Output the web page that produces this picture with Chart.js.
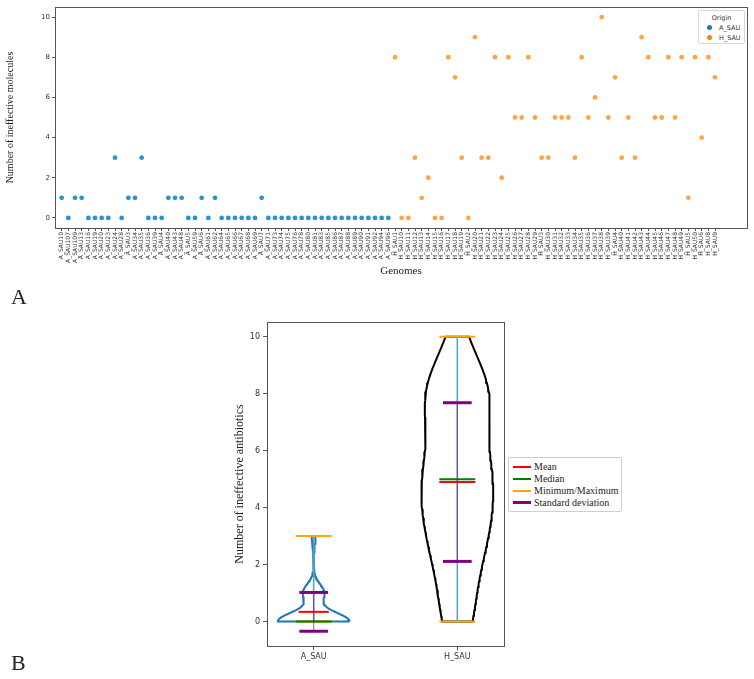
<!DOCTYPE html>
<html>
<head>
<meta charset="utf-8">
<script src="https://cdn.jsdelivr.net/npm/chart.js@4.4.0/dist/chart.umd.min.js"></script>
<style>
  body { margin: 0; background: #fff; width: 754px; height: 679px; position: relative; overflow: hidden; }
  canvas { position: absolute; left: 0; }
  #chartA { top: 0; }
  #chartB { top: 300px; }
  .tag { position: absolute; font-family: "Liberation Serif", serif; font-size: 22px; color: #222; }
  #legA { position: absolute; left: 698px; top: 10px; width: 45px; height: 32px; border: 1px solid #d8d8d8; border-radius: 2px;
          font-family: "DejaVu Sans", sans-serif; font-size: 6.5px; color: #333; background: #fff; }
  #legA .ttl { position: absolute; left: 0; width: 45px; top: 3px; text-align: center; }
  #legA .row { position: absolute; left: 0; height: 9px; }
  #legA .dot { position: absolute; left: 8px; top: 1px; width: 5px; height: 5px; border-radius: 50%; }
  #legA .lab { position: absolute; left: 20px; top: 0; white-space: nowrap; }
  #legB { position: absolute; left: 508px; top: 457px; width: 112px; height: 53px; border: 1px solid #cfcfcf; border-radius: 2px;
          font-family: "Liberation Serif", serif; font-size: 10px; color: #222; background: #fff; }
  #legB .row { position: absolute; left: 0; height: 12px; }
  #legB .ln { position: absolute; left: 4px; width: 18px; }
  #legB .lab { position: absolute; left: 25px; top: 0; white-space: nowrap; }
</style>
</head>
<body>
<canvas id="chartA" width="754" height="282"></canvas>
<canvas id="chartB" width="754" height="379"></canvas>
<div class="tag" style="left:11px; top:284px;">A</div>
<div class="tag" style="left:11px; top:650px;">B</div>

<div id="legA">
  <div class="ttl">Origin</div>
  <div class="row" style="top:13px"><div class="dot" style="background:#1f77b4"></div><div class="lab">A_SAU</div></div>
  <div class="row" style="top:23px"><div class="dot" style="background:#ff7f0e"></div><div class="lab">H_SAU</div></div>
</div>

<div id="legB">
  <div class="row" style="top:3px"><div class="ln" style="top:5px;height:2px;background:#ff0000"></div><div class="lab">Mean</div></div>
  <div class="row" style="top:15px"><div class="ln" style="top:5px;height:2px;background:#008000"></div><div class="lab">Median</div></div>
  <div class="row" style="top:27px"><div class="ln" style="top:5px;height:2px;background:#ffa500"></div><div class="lab">Minimum/Maximum</div></div>
  <div class="row" style="top:39px"><div class="ln" style="top:4px;height:3px;background:#800080"></div><div class="lab">Standard deviation</div></div>
</div>

<script>
// genomes, in plotting order
const aGenomes = ["A_SAU10", "A_SAU107", "A_SAU109", "A_SAU13", "A_SAU16", "A_SAU19", "A_SAU20", "A_SAU23", "A_SAU24", "A_SAU28",
  "A_SAU3", "A_SAU34", "A_SAU35", "A_SAU36", "A_SAU39", "A_SAU4", "A_SAU40", "A_SAU43", "A_SAU48", "A_SAU5",
  "A_SAU59", "A_SAU6", "A_SAU61", "A_SAU62", "A_SAU64", "A_SAU65", "A_SAU66", "A_SAU67", "A_SAU68", "A_SAU69",
  "A_SAU7", "A_SAU71", "A_SAU73", "A_SAU74", "A_SAU75", "A_SAU76", "A_SAU78", "A_SAU80", "A_SAU81", "A_SAU83",
  "A_SAU85", "A_SAU86", "A_SAU87", "A_SAU88", "A_SAU89", "A_SAU90", "A_SAU91", "A_SAU92", "A_SAU94", "A_SAU96"];
const aValues = [1, 0, 1, 1, 0, 0, 0, 0, 3, 0,
  1, 1, 3, 0, 0, 0, 1, 1, 1, 0,
  0, 1, 0, 1, 0, 0, 0, 0, 0, 0,
  1, 0, 0, 0, 0, 0, 0, 0, 0, 0,
  0, 0, 0, 0, 0, 0, 0, 0, 0, 0];

const hGenomes = ["H_SAU1", "H_SAU10", "H_SAU11", "H_SAU12", "H_SAU13", "H_SAU14", "H_SAU15", "H_SAU16", "H_SAU17", "H_SAU18",
  "H_SAU19", "H_SAU2", "H_SAU20", "H_SAU21", "H_SAU22", "H_SAU23", "H_SAU24", "H_SAU25", "H_SAU26", "H_SAU27",
  "H_SAU28", "H_SAU29", "H_SAU3", "H_SAU30", "H_SAU31", "H_SAU32", "H_SAU33", "H_SAU34", "H_SAU35", "H_SAU36",
  "H_SAU37", "H_SAU38", "H_SAU39", "H_SAU4", "H_SAU40", "H_SAU41", "H_SAU42", "H_SAU43", "H_SAU44", "H_SAU45",
  "H_SAU46", "H_SAU47", "H_SAU48", "H_SAU49", "H_SAU5", "H_SAU50", "H_SAU6", "H_SAU8", "H_SAU9"];
const hValues = [8, 0, 0, 3, 1, 2, 0, 0, 8, 7,
  3, 0, 9, 3, 3, 8, 2, 8, 5, 5,
  8, 5, 3, 3, 5, 5, 5, 3, 8, 5,
  6, 10, 5, 7, 3, 5, 3, 9, 8, 5,
  5, 8, 5, 8, 1, 8, 4, 8, 7];

const yTicksA = [0, 2, 4, 6, 8, 10];
const yTicksB = [0, 2, 4, 6, 8, 10];
const origins = ["A_SAU", "H_SAU"];
const violinPos = [1, 2];

const genomes = aGenomes.concat(hGenomes);

// frame around the plot area (matplotlib style box)
const frame = {
  id: 'frame',
  afterDraw(chart) {
    const { ctx, chartArea: a } = chart;
    ctx.save();
    ctx.strokeStyle = '#555';
    ctx.lineWidth = 1;
    ctx.strokeRect(Math.round(a.left) + 0.5, Math.round(a.top) + 0.5, Math.round(a.width), Math.round(a.height));
    ctx.restore();
  }
};

const tickFont = { family: 'DejaVu Sans', size: 7 };

// ---------- panel A : scatter ----------
new Chart(document.getElementById('chartA'), {
  type: 'scatter',
  data: {
    datasets: [
      {
        label: origins[0],
        data: aValues.map((v, i) => ({ x: i, y: v })),
        backgroundColor: '#2b93d1',
        borderWidth: 0,
        pointRadius: 2.4
      },
      {
        label: origins[1],
        data: hValues.map((v, i) => ({ x: aValues.length + i, y: v })),
        backgroundColor: '#ffa548',
        borderWidth: 0,
        pointRadius: 2.4
      }
    ]
  },
  options: {
    responsive: false,
    animation: false,
    layout: { padding: { top: 7, right: 7, left: 0, bottom: 0 } },
    plugins: { legend: { display: false }, tooltip: { enabled: false } },
    scales: {
      x: {
        type: 'linear',
        min: -1,
        max: 102.8,
        afterBuildTicks: s => { s.ticks = genomes.map((g, i) => ({ value: i })); },
        afterFit: s => { s.height = 54; },
        grid: { drawOnChartArea: false, drawTicks: true, tickLength: 3, color: '#555' },
        border: { display: false },
        ticks: {
          autoSkip: false, minRotation: 90, maxRotation: 90, padding: 1,
          font: { family: 'DejaVu Sans', size: 6 }, color: '#333',
          callback: v => genomes[v]
        },
        title: { display: true, text: 'Genomes', color: '#222',
                 font: { family: 'Liberation Serif', size: 11 }, padding: { top: 0, bottom: 4 } }
      },
      y: {
        min: -0.5,
        max: 10.5,
        afterBuildTicks: s => { s.ticks = yTicksA.map(v => ({ value: v })); },
        afterFit: s => { s.width = 55; },
        grid: { drawOnChartArea: false, drawTicks: true, tickLength: 3, color: '#555' },
        border: { display: false },
        ticks: { font: tickFont, color: '#333', padding: 2 },
        title: { display: true, text: 'Number of ineffective molecules', color: '#222',
                 font: { family: 'Liberation Serif', size: 10 }, padding: { top: 4, bottom: 0 } }
      }
    }
  },
  plugins: [frame]
});

// ---------- panel B : violins ----------
function stats(vals) {
  const n = vals.length;
  const mean = vals.reduce((a, b) => a + b, 0) / n;
  const sd = Math.sqrt(vals.reduce((a, v) => a + (v - mean) ** 2, 0) / n);
  const s = vals.slice().sort((a, b) => a - b);
  const median = n % 2 ? s[(n - 1) / 2] : (s[n / 2 - 1] + s[n / 2]) / 2;
  return { mean, sd, median, min: s[0], max: s[n - 1] };
}

// gaussian kde (scott bandwidth) outline, like matplotlib violinplot
function outline(vals, pos) {
  const n = vals.length;
  const mean = vals.reduce((a, b) => a + b, 0) / n;
  const sd1 = Math.sqrt(vals.reduce((a, v) => a + (v - mean) ** 2, 0) / (n - 1));
  const bw = sd1 * Math.pow(n, -0.2);
  const lo = Math.min(...vals), hi = Math.max(...vals);
  const ys = [], ds = [];
  for (let i = 0; i < 100; i++) {
    const y = lo + (hi - lo) * i / 99;
    let d = 0;
    vals.forEach(v => { d += Math.exp(-0.5 * ((y - v) / bw) ** 2); });
    ys.push(y); ds.push(d);
  }
  const dm = Math.max(...ds);
  const right = ys.map((y, i) => ({ x: pos + 0.25 * ds[i] / dm, y }));
  const left = ys.map((y, i) => ({ x: pos - 0.25 * ds[i] / dm, y })).reverse();
  return right.concat(left, [right[0]]);
}

function hline(pos, y, half) { return [{ x: pos - half, y }, { x: pos + half, y }]; }
function vline(pos, y0, y1) { return [{ x: pos, y: y0 }, { x: pos, y: y1 }]; }

function seg(data, color, width, order) {
  return { data, borderColor: color, borderWidth: width, showLine: true, pointRadius: 0, tension: 0, fill: false, order };
}

const groups = [aValues, hValues];
const bodyColors = ['#1f77b4', '#000000'];
const dsB = [];
groups.forEach((vals, k) => {
  const p = violinPos[k];
  const st = stats(vals);
  dsB.push(seg(outline(vals, p), bodyColors[k], 2, 10));
  dsB.push(seg(vline(p, st.min, st.max), '#4aa3dc', 1.5, 9));
  dsB.push(seg(hline(p, st.min, 0.125), '#ffa500', 2, 8));
  dsB.push(seg(hline(p, st.max, 0.125), '#ffa500', 2, 8));
  dsB.push(seg(hline(p, st.mean, k === 0 ? 0.105 : 0.125), '#ff0000', 2, 7));
  dsB.push(seg(hline(p, st.median, 0.125), '#008000', 2, 6));
  dsB.push(seg(vline(p, st.mean - st.sd, st.mean + st.sd), 'rgba(128,0,128,0.55)', 1.2, 5));
  dsB.push(seg(hline(p, st.mean - st.sd, 0.1), '#800080', 3, 4));
  dsB.push(seg(hline(p, st.mean + st.sd, 0.1), '#800080', 3, 4));
});

new Chart(document.getElementById('chartB'), {
  type: 'scatter',
  data: { datasets: dsB },
  options: {
    responsive: false,
    animation: false,
    layout: { padding: { top: 22, right: 250, left: 217, bottom: 0 } },
    plugins: { legend: { display: false }, tooltip: { enabled: false } },
    scales: {
      x: {
        type: 'linear',
        min: 0.675,
        max: 2.325,
        afterBuildTicks: s => { s.ticks = violinPos.map(v => ({ value: v })); },
        afterFit: s => { s.height = 33; },
        grid: { drawOnChartArea: false, drawTicks: true, tickLength: 4, color: '#555' },
        border: { display: false },
        ticks: { font: { family: 'DejaVu Sans', size: 8 }, color: '#333', padding: 2,
                 callback: v => origins[violinPos.indexOf(v)] }
      },
      y: {
        min: -0.86,
        max: 10.52,
        afterBuildTicks: s => { s.ticks = yTicksB.map(v => ({ value: v })); },
        afterFit: s => { s.width = 50; },
        grid: { drawOnChartArea: false, drawTicks: true, tickLength: 4, color: '#555' },
        border: { display: false },
        ticks: { font: { family: 'DejaVu Sans', size: 8 }, color: '#333', padding: 3 },
        title: { display: true, text: 'Number of ineffective antibiotics', color: '#222',
                 font: { family: 'Liberation Serif', size: 12 }, padding: { top: 16, bottom: 0 } }
      }
    }
  },
  plugins: [frame]
});
</script>
</body>
</html>
